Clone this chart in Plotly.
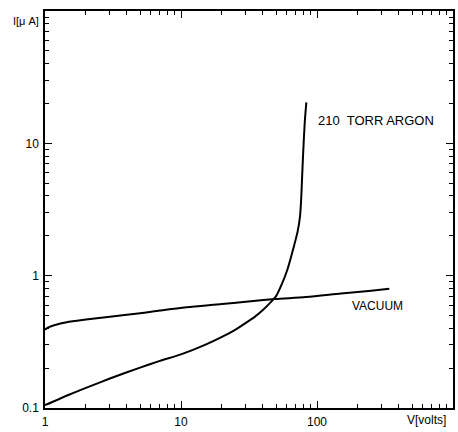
import math
import plotly.graph_objects as go

# Current-voltage characteristics (log-log)
vac_v = [1, 1.03, 1.08, 1.15, 1.3, 1.6, 2, 3, 5, 7, 11, 20, 30, 49, 83, 150, 250, 340]
vac_i = [0.39, 0.40, 0.41, 0.42, 0.435, 0.452, 0.466, 0.49, 0.52, 0.545, 0.577, 0.61, 0.636, 0.665, 0.69, 0.733, 0.77, 0.795]

arg_v = [1, 1.5, 2, 3, 5, 7, 10, 15, 20, 25, 30, 35, 40, 45, 50, 55, 60, 64, 68, 72,
         75, 76.5, 77.5, 79, 81.3, 83.5]
arg_i = [0.105, 0.126, 0.142, 0.167, 0.202, 0.227, 0.254, 0.30, 0.345, 0.39, 0.44, 0.49,
         0.55, 0.62, 0.70, 0.86, 1.08, 1.35, 1.7, 2.15, 2.8, 3.8, 5.2, 8.2, 14.5, 20.4]

x_ticks = [1, 10, 100]
x_tick_text = ["1", "10", "100"]
y_ticks = [0.1, 1, 10]
y_tick_text = ["0.1", "1", "10"]


def minor_vals(lo_exp, hi_exp):
    vals = []
    for e in range(lo_exp, hi_exp):
        for d in range(2, 10):
            vals.append(d * 10 ** e)
    return vals


font = dict(family="Liberation Sans, Arial, sans-serif", color="black")

fig = go.Figure()
fig.add_trace(go.Scatter(x=vac_v, y=vac_i, mode="lines",
                         line=dict(color="black", width=2, shape="spline", smoothing=0.8),
                         name="VACUUM"))
fig.add_trace(go.Scatter(x=arg_v, y=arg_i, mode="lines",
                         line=dict(color="black", width=2, shape="spline", smoothing=0.6),
                         name="210 TORR ARGON"))

axis_common = dict(
    type="log", showgrid=False, zeroline=False,
    showline=True, linecolor="black", linewidth=1.5,
    mirror="ticks", ticks="inside", ticklen=7, tickwidth=1.2, tickcolor="black",
    tickfont=dict(size=12, **font),
)

fig.update_xaxes(range=[0, 3], tickvals=x_ticks, ticktext=x_tick_text,
                 minor=dict(tickvals=minor_vals(0, 3), ticks="inside", ticklen=4,
                            tickwidth=1, tickcolor="black"),
                 ticklabelstandoff=2, **axis_common)
fig.update_yaxes(range=[-1, 2], tickvals=y_ticks, ticktext=y_tick_text,
                 minor=dict(tickvals=minor_vals(-1, 2), ticks="inside", ticklen=4,
                            tickwidth=1, tickcolor="black"),
                 ticklabelstandoff=2, **axis_common)

fig.add_annotation(x=math.log10(98), y=math.log10(14.9), text="210  TORR ARGON",
                   showarrow=False, xanchor="left", yanchor="middle",
                   font=dict(size=13, **font))
fig.add_annotation(x=math.log10(174), y=math.log10(0.59), text="VACUUM",
                   showarrow=False, xanchor="left", yanchor="middle",
                   font=dict(size=12, **font))
fig.add_annotation(xref="paper", yref="paper", x=0.934, y=-0.03, text="V[volts]",
                   showarrow=False, xanchor="center", yanchor="middle",
                   font=dict(size=12, **font))
fig.add_annotation(xref="paper", yref="paper", x=-0.046, y=0.975, text="I[μ A]",
                   showarrow=False, xanchor="center", yanchor="middle",
                   font=dict(size=11, **font))

fig.update_layout(
    width=458, height=432,
    margin=dict(l=45, r=3, t=11, b=19),
    plot_bgcolor="white", paper_bgcolor="white",
    showlegend=False,
)

fig.write_html("out.html")
